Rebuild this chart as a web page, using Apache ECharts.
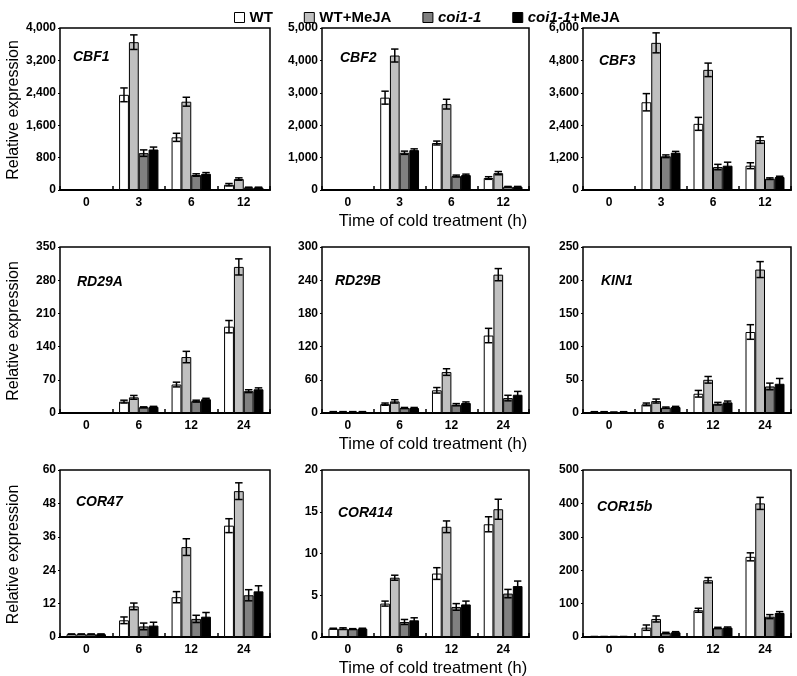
<!DOCTYPE html>
<html><head><meta charset="utf-8">
<script src="https://cdn.jsdelivr.net/npm/echarts@6/dist/echarts.min.js"></script>
<style>html,body{margin:0;padding:0;background:#fff}#c{width:797px;height:676px}</style>
</head><body><div id="c"></div>
<script>
// ---------- DATA ----------
const seriesNames = ['WT', 'WT+MeJA', 'coi1-1', 'coi1-1+MeJA'];
const catsCBF = ['0', '3', '6', '12'];
const catsCOR = ['0', '6', '12', '24'];
const geneNames = ['CBF1', 'CBF2', 'CBF3', 'RD29A', 'RD29B', 'KIN1', 'COR47', 'COR414', 'COR15b'];
const yMax = [4000, 5000, 6000, 350, 300, 250, 60, 20, 500];
const yInterval = [800, 1000, 1200, 70, 60, 50, 12, 5, 100];

// rows: WT, WT+MeJA, coi1-1, coi1-1+MeJA ; columns: time points
const cbf1Mean = [[1, 2350, 1300, 130], [1, 3650, 2180, 270], [1, 910, 370, 60], [1, 1000, 400, 60]];
const cbf1Err  = [[0, 170, 100, 30], [0, 180, 110, 30], [0, 80, 30, 10], [0, 60, 30, 10]];
const cbf2Mean = [[1, 2850, 1450, 370], [1, 4150, 2650, 520], [1, 1150, 430, 100], [1, 1230, 460, 100]];
const cbf2Err  = [[0, 200, 60, 40], [0, 200, 150, 50], [0, 50, 30, 10], [0, 40, 30, 10]];
const cbf3Mean = [[1, 3250, 2450, 900], [1, 5450, 4450, 1850], [1, 1250, 850, 420], [1, 1380, 900, 480]];
const cbf3Err  = [[0, 320, 240, 110], [0, 370, 250, 120], [0, 50, 100, 30], [0, 50, 130, 30]];
const rd29aMean = [[1, 24, 60, 182], [1, 33, 118, 308], [1, 12, 25, 46], [1, 13, 29, 50]];
const rd29aErr  = [[0, 3, 5, 13], [0, 4, 12, 17], [0, 1, 2, 3], [0, 1, 2, 3]];
const rd29bMean = [[2, 16, 41, 140], [2, 21, 74, 250], [2, 9, 15, 27], [2, 9, 18, 33]];
const rd29bErr  = [[0.5, 2, 5, 13], [0.5, 3, 6, 11], [0.5, 1, 2, 5], [0.5, 1, 2, 6]];
const kin1Mean = [[1.5, 13, 29, 122], [1.5, 18, 50, 216], [1, 8, 14, 40], [1.5, 9, 16, 44]];
const kin1Err  = [[0.5, 2, 5, 11], [0.5, 3, 5, 12], [0.5, 1, 2, 5], [0.5, 1, 2, 8]];
const cor47Mean = [[1, 6, 14.3, 40], [1, 11, 32.3, 52.4], [1, 3.8, 6.5, 15], [1, 4.1, 7.3, 16.4]];
const cor47Err  = [[0.1, 1.2, 2, 2.5], [0.1, 1.2, 3, 3], [0.1, 1.2, 1.3, 2], [0.1, 1.2, 1.5, 2]];
const cor414Mean = [[1, 4.0, 7.6, 13.5], [1, 7.1, 13.2, 15.3], [0.95, 1.8, 3.6, 5.2], [1, 2.0, 3.9, 6.1]];
const cor414Err  = [[0.05, 0.3, 0.7, 0.9], [0.1, 0.3, 0.7, 1.2], [0.05, 0.3, 0.4, 0.5], [0.05, 0.3, 0.4, 0.6]];
const cor15bMean = [[1, 28, 80, 240], [1, 54, 170, 400], [1, 12, 27, 61], [1, 14, 28, 72]];
const cor15bErr  = [[0.5, 8, 6, 12], [0.5, 9, 8, 18], [0.5, 2, 2, 6], [0.5, 2, 2, 4]];

const allMeans = [cbf1Mean, cbf2Mean, cbf3Mean, rd29aMean, rd29bMean, kin1Mean, cor47Mean, cor414Mean, cor15bMean];
const allErrs = [cbf1Err, cbf2Err, cbf3Err, rd29aErr, rd29bErr, kin1Err, cor47Err, cor414Err, cor15bErr];
const allCats = [catsCBF, catsCBF, catsCBF, catsCOR, catsCOR, catsCOR, catsCOR, catsCOR, catsCOR];

// ---------- LAYOUT / STYLE ----------
const colors = ['#ffffff', '#c0c0c0', '#808080', '#000000'];
const colLeft = [60, 322, 583];
const colWidth = [210, 207, 208];
const rowTop = [28, 247, 470];
const rowHeight = [162, 166, 167];
const geneLabelPos = [[73, 58], [340, 59], [599, 62], [77, 283], [335, 282], [601, 282], [76, 503], [338, 514], [597, 508]];
const FONT = '"Liberation Sans", Arial, sans-serif';

const grids = [], xAxes = [], yAxes = [], series = [], graphics = [];

function errRender(sIdx) {
  return function (params, api) {
    const ci = api.value(0), m = api.value(1), e = api.value(2);
    if (!(e > 0)) return null;
    const top = api.coord([ci, m + e]);
    const bot = api.coord([ci, Math.max(0, m - e)]);
    const band = api.size([1, 0])[0];
    const bw = band * 0.75 / 4;
    const x = top[0] + (sIdx - 1.5) * bw;
    const hw = bw * 0.38;
    const st = { stroke: '#000', lineWidth: 1.5 };
    return {
      type: 'group', children: [
        { type: 'line', shape: { x1: x, y1: top[1], x2: x, y2: bot[1] }, style: st },
        { type: 'line', shape: { x1: x - hw, y1: top[1], x2: x + hw, y2: top[1] }, style: st },
        { type: 'line', shape: { x1: x - hw, y1: bot[1], x2: x + hw, y2: bot[1] }, style: st }
      ]
    };
  };
}

for (let p = 0; p < 9; p++) {
  const r = Math.floor(p / 3), c = p % 3;
  grids.push({ left: colLeft[c], top: rowTop[r], width: colWidth[c], height: rowHeight[r],
    show: true, borderColor: '#000', borderWidth: 1.5, containLabel: false });
  xAxes.push({ type: 'category', gridIndex: p, data: allCats[p],
    axisLine: { lineStyle: { color: '#000', width: 2 } },
    axisTick: { show: true, inside: true, length: 4, lineStyle: { color: '#000', width: 1.5 } },
    axisLabel: { color: '#000', fontWeight: 'bold', fontSize: 12, fontFamily: FONT, margin: 7 } });
  yAxes.push({ type: 'value', gridIndex: p, min: 0, max: yMax[p], interval: yInterval[p],
    splitLine: { show: false },
    axisLine: { show: false },
    axisTick: { show: true, length: 2, lineStyle: { color: '#000', width: 1 } },
    axisLabel: { color: '#000', fontWeight: 'bold', fontSize: 12, fontFamily: FONT, margin: 4,
      formatter: v => v.toLocaleString('en-US') } });
  for (let s = 0; s < 4; s++) {
    series.push({ type: 'bar', name: seriesNames[s], xAxisIndex: p, yAxisIndex: p,
      data: allMeans[p][s], barGap: '0%', barCategoryGap: '25%',
      itemStyle: { color: colors[s], borderColor: '#000', borderWidth: 1 },
      emphasis: { disabled: true }, silent: true });
  }
  for (let s = 0; s < 4; s++) {
    series.push({ type: 'custom', xAxisIndex: p, yAxisIndex: p, z: 5, silent: true,
      renderItem: errRender(s), encode: { x: 0, y: 1 },
      data: allMeans[p][s].map((v, i) => [i, v, allErrs[p][s][i]]) });
  }
  graphics.push({ type: 'text', left: geneLabelPos[p][0], top: geneLabelPos[p][1] - 8,
    style: { text: geneNames[p], font: 'italic bold 14px ' + FONT, fill: '#000' } });
}

for (let r = 0; r < 3; r++) {
  graphics.push({ type: 'text', x: 14, y: rowTop[r] + rowHeight[r] / 2 + 1, rotation: Math.PI / 2,
    style: { text: 'Relative expression', font: '16px ' + FONT, fill: '#000', align: 'center', verticalAlign: 'middle' } });
  graphics.push({ type: 'text', x: 433, y: rowTop[r] + rowHeight[r] + 31,
    style: { text: 'Time of cold treatment (h)', font: '16.5px ' + FONT, fill: '#000', align: 'center', verticalAlign: 'middle' } });
}

const chart = echarts.init(document.getElementById('c'), null, { renderer: 'canvas' });
chart.setOption({
  animation: false,
  backgroundColor: '#fff',
  legend: {
    data: seriesNames, left: 229, top: 5, icon: 'rect', itemWidth: 10, itemHeight: 10, itemGap: 31,
    itemStyle: { borderColor: '#000', borderWidth: 1 },
    selectedMode: false,
    textStyle: { color: '#000', fontWeight: 'bold', fontSize: 15, fontFamily: FONT,
      rich: { i: { fontStyle: 'italic', fontWeight: 'bold', fontSize: 15, fontFamily: FONT, color: '#000' },
              n: { fontWeight: 'bold', fontSize: 15, fontFamily: FONT, color: '#000' } } },
    formatter: name => name.startsWith('coi') ? ('{i|coi1-1}' + (name.length > 6 ? '{n|+MeJA}' : '')) : name
  },
  grid: grids, xAxis: xAxes, yAxis: yAxes, series: series, graphic: graphics
});
</script></body></html>
